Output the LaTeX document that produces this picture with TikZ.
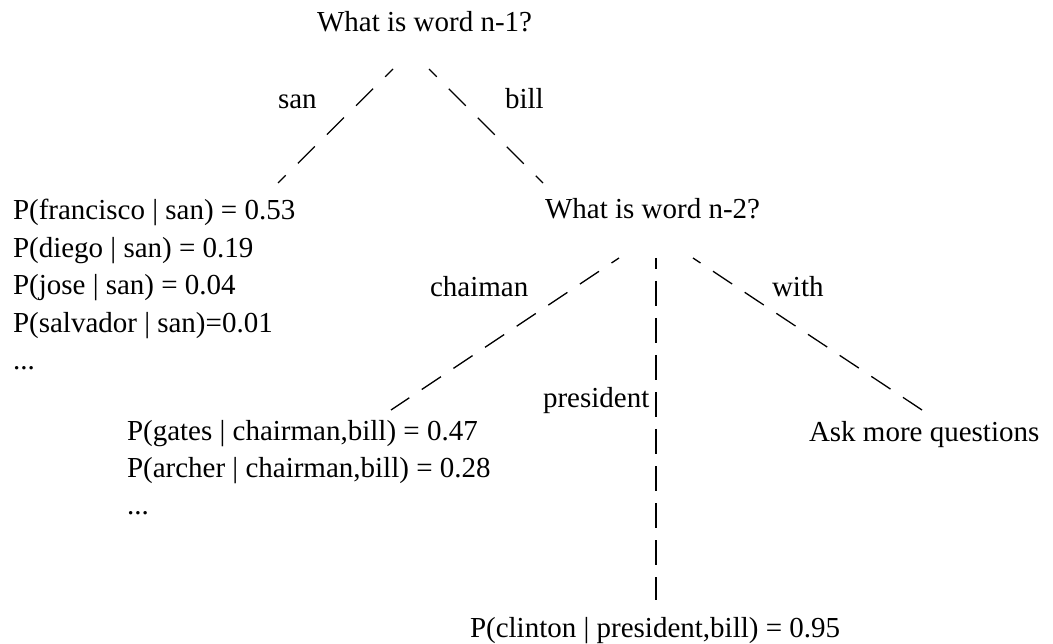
\documentclass[tikz,border=0pt]{standalone}
\usepackage{fontspec}
\setmainfont{Liberation Serif}
\begin{document}
\begin{tikzpicture}[x=1pt,y=-1pt,
  lbl/.style={anchor=base west,inner sep=0pt,outer sep=0pt,font=\fontsize{29}{37}\selectfont},
  edgediag/.style={line width=1.3pt,dash pattern=on 24pt off 17pt,dash phase=13pt},
  edgeslope/.style={line width=1.3pt,dash pattern=on 23pt off 15pt,dash phase=14pt},
  edgevert/.style={line width=1.3pt,dash pattern=on 25pt off 12pt,dash phase=14pt}]
\useasboundingbox (0,0) rectangle (1053,644);
% texts
\node[lbl] (q1) at (317,32) {What is word n-1?};
\node[lbl] (san) at (278,109) {san};
\node[lbl] (bill) at (505,109) {bill};
\node[lbl] (l1) at (13,220) {P(francisco | san) = 0.53};
\node[lbl] (l2) at (13,257.5) {P(diego | san) = 0.19};
\node[lbl] (l3) at (13,295) {P(jose | san) = 0.04};
\node[lbl] (l4) at (13,332.5) {P(salvador | san)=0.01};
\node[lbl] (l5) at (13,370) {...};
\node[lbl] (q2) at (545,219) {What is word n-2?};
\node[lbl] (chai) at (430,297) {chaiman};
\node[lbl] (pres) at (543,408) {president};
\node[lbl] (with) at (772,297) {with};
\node[lbl] (ask) at (809,442) {Ask more questions};
\node[lbl] (g1) at (127,440) {P(gates | chairman,bill) = 0.47};
\node[lbl] (g2) at (127,477) {P(archer | chairman,bill) = 0.28};
\node[lbl] (g3) at (127,514) {...};
\node[lbl] (cl) at (470,637) {P(clinton | president,bill) = 0.95};
% connector ends
\coordinate (e1a) at (393,69);
\coordinate (e1b) at (278,183);
\coordinate (e2a) at (429,69);
\coordinate (e2b) at (543,183);
\coordinate (e3a) at (619,258);
\coordinate (e3b) at (391,410);
\coordinate (e4a) at (656,258);
\coordinate (e4b) at (656,600);
\coordinate (e5a) at (693,258);
\coordinate (e5b) at (922,410);
% connectors
\draw[edgediag] (e1a) -- (e1b);
\draw[edgediag] (e2a) -- (e2b);
\draw[edgeslope] (e3a) -- (e3b);
\draw[edgevert] (e4a) -- (e4b);
\draw[edgeslope] (e5a) -- (e5b);
\end{tikzpicture}
\end{document}
